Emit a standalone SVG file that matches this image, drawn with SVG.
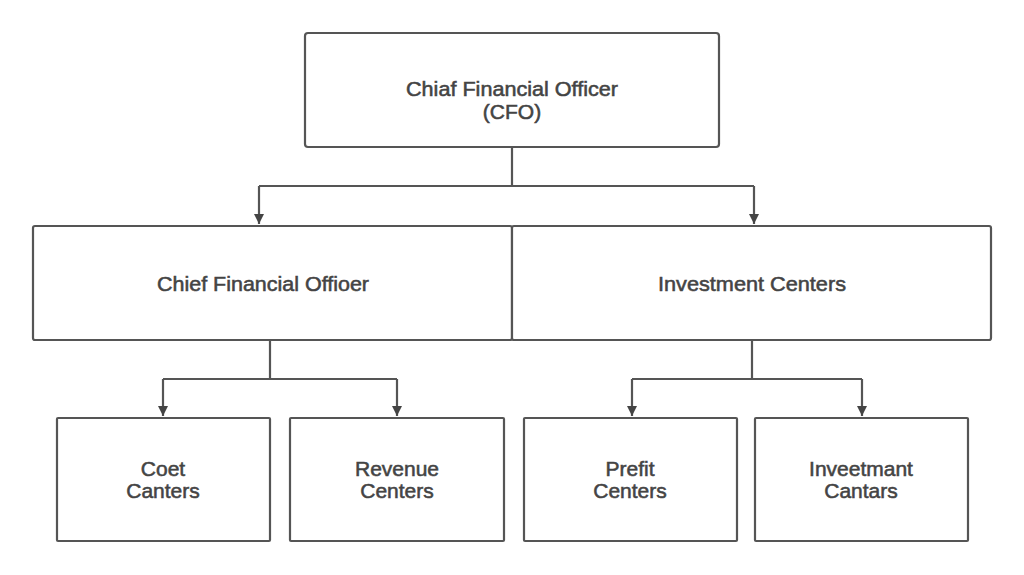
<svg xmlns="http://www.w3.org/2000/svg" width="1024" height="575" viewBox="0 0 1024 575">
<style>
.box{fill:#fff;stroke:#555;stroke-width:2.2}
.lbl{font-family:"Liberation Sans",Arial,sans-serif;font-size:21px;fill:#444;text-anchor:middle;stroke:#444;stroke-width:0.55}
.con{fill:none;stroke:#555;stroke-width:2.2}
</style>
<defs>
<marker id="arr" viewBox="0 0 10 10" refX="10" refY="5" markerWidth="10" markerHeight="10" markerUnits="userSpaceOnUse" orient="auto">
<path d="M0,0 L10,5 L0,10 z" fill="#444"/>
</marker>
</defs>
<rect width="1024" height="575" fill="#fff"/>
<g id="connectors">
<path class="con" d="M512,147 V186 M259,186 H754"/>
<path class="con" d="M259,186 V224" marker-end="url(#arr)"/>
<path class="con" d="M754,186 V224" marker-end="url(#arr)"/>
<path class="con" d="M270,340 V379 M163,379 H397"/>
<path class="con" d="M163,379 V416" marker-end="url(#arr)"/>
<path class="con" d="M397,379 V416" marker-end="url(#arr)"/>
<path class="con" d="M752,340 V379 M632,379 H862"/>
<path class="con" d="M632,379 V416" marker-end="url(#arr)"/>
<path class="con" d="M862,379 V416" marker-end="url(#arr)"/>
</g>
<g id="cfo">
<rect class="box" x="305" y="33" width="414" height="114" rx="3"/>
<text class="lbl" x="512" y="96" textLength="212" lengthAdjust="spacingAndGlyphs">Chiaf Financial Officer</text>
<text class="lbl" x="512" y="119">(CFO)</text>
</g>
<g id="mid-left">
<rect class="box" x="33" y="226" width="479" height="114" rx="2"/>
<text class="lbl" x="263" y="291" textLength="212" lengthAdjust="spacingAndGlyphs">Chief Financial Offioer</text>
</g>
<g id="mid-right">
<rect class="box" x="512" y="226" width="479" height="114" rx="2"/>
<text class="lbl" x="752" y="291" textLength="188" lengthAdjust="spacingAndGlyphs">Investment Centers</text>
</g>
<g id="cost">
<rect class="box" x="57" y="418" width="213" height="123" rx="1"/>
<text class="lbl" x="163" y="476">Coet</text>
<text class="lbl" x="163" y="498">Canters</text>
</g>
<g id="revenue">
<rect class="box" x="290" y="418" width="214" height="123" rx="1"/>
<text class="lbl" x="397" y="476">Revenue</text>
<text class="lbl" x="397" y="498">Centers</text>
</g>
<g id="profit">
<rect class="box" x="524" y="418" width="213" height="123" rx="1"/>
<text class="lbl" x="630" y="476">Prefit</text>
<text class="lbl" x="630" y="498">Centers</text>
</g>
<g id="investment">
<rect class="box" x="755" y="418" width="213" height="123" rx="1"/>
<text class="lbl" x="861" y="476">Inveetmant</text>
<text class="lbl" x="861" y="498">Cantars</text>
</g>
</svg>
